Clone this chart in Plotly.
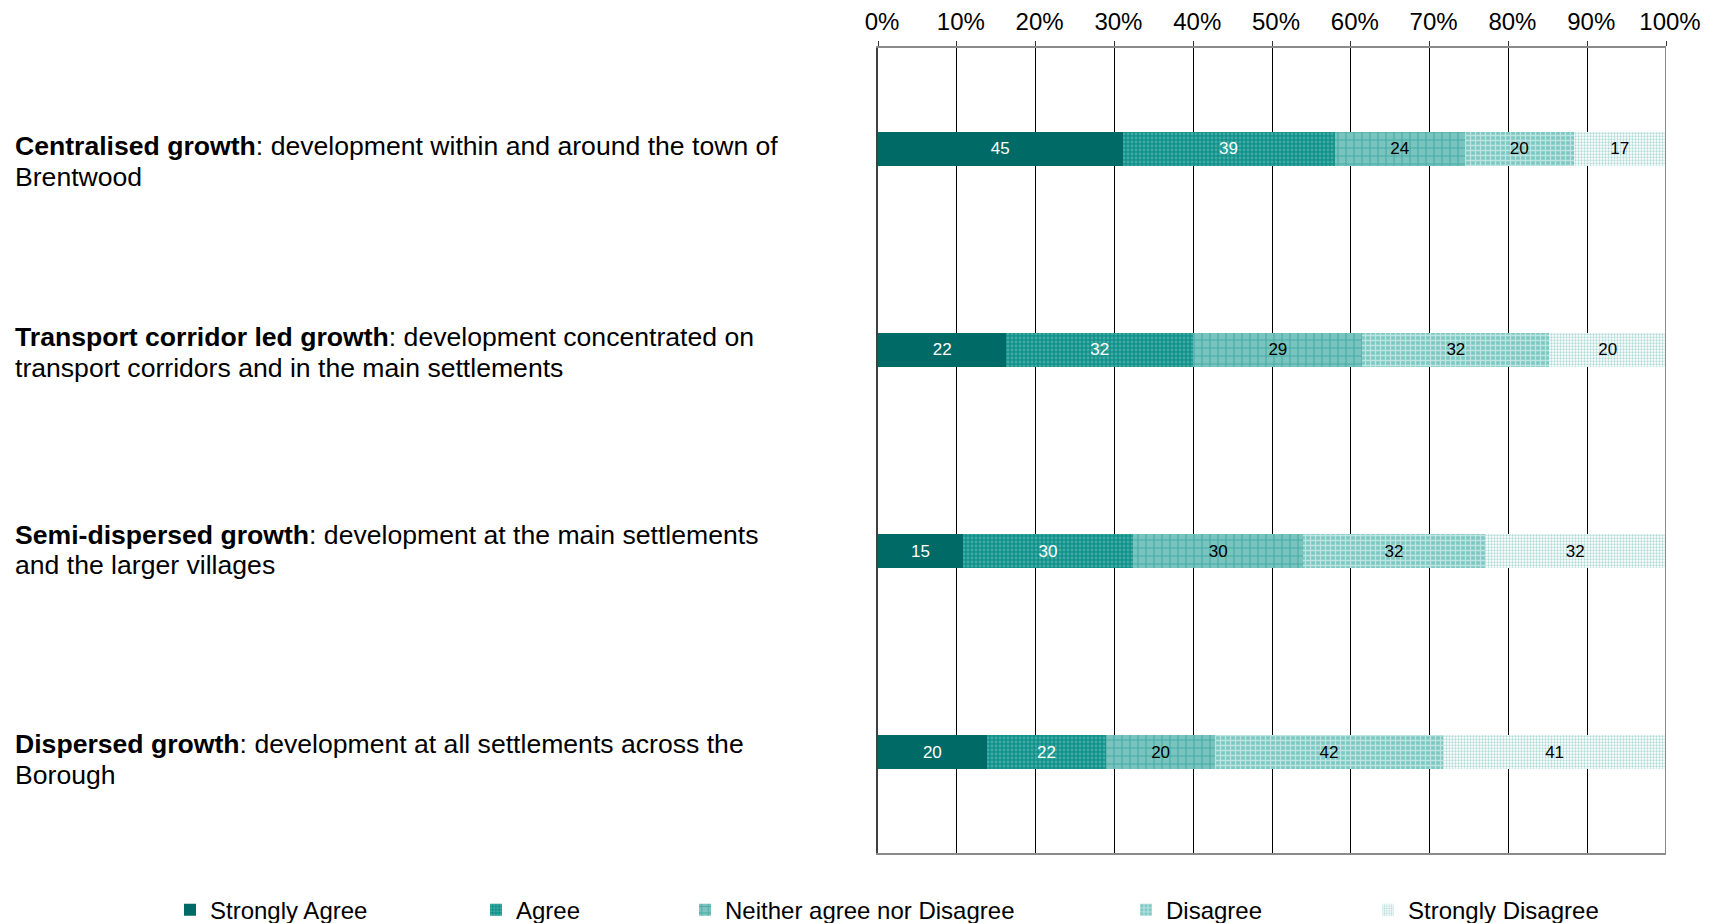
import plotly.graph_objects as go

# Survey responses (counts) per growth option
options = [
    "Centralised growth",
    "Transport corridor led growth",
    "Semi-dispersed growth",
    "Dispersed growth",
]
desc_line1 = [
    ": development within and around the town of",
    ": development concentrated on",
    ": development at the main settlements",
    ": development at all settlements across the",
]
desc_line2 = [
    "Brentwood",
    "transport corridors and in the main settlements",
    "and the larger villages",
    "Borough",
]
responses = ["Strongly Agree", "Agree", "Neither agree nor Disagree", "Disagree", "Strongly Disagree"]
strongly_agree = [45, 22, 15, 20]
agree = [39, 32, 30, 22]
neither = [24, 29, 30, 20]
disagree = [20, 32, 32, 42]
strongly_disagree = [17, 20, 32, 41]
series = [strongly_agree, agree, neither, disagree, strongly_disagree]
x_ticks = list(range(0, 101, 10))

FONT = "Liberation Sans, Arial, sans-serif"

styles = [
    dict(color="#006B66", pattern=None, text="white"),
    dict(color="#0C8E87", pattern=dict(shape=".", fgcolor="#74C5BF", bgcolor="#10918A", size=4, solidity=0.4), text="white"),
    dict(color="#6FBFBA", pattern=dict(shape="+", fgcolor="#13918A", bgcolor="#79C4BF", size=8, solidity=0.25), text="black"),
    dict(color="#A6D8D4", pattern=dict(shape="+", fgcolor="#FFFFFF", bgcolor="#7CC8C3", size=5, solidity=0.45), text="black"),
    dict(color="#FFFFFF", pattern=dict(shape=".", fgcolor="#5FB6B0", bgcolor="#FFFFFF", size=3, solidity=0.45), text="black"),
]

legend_x = [-0.8985, -0.5102, -0.2449, 0.3147, 0.6218]

fig = go.Figure()
for i, (name, vals, st) in enumerate(zip(responses, series, styles)):
    marker = dict(color=st["color"], line=dict(width=0))
    if st["pattern"]:
        marker["pattern"] = st["pattern"]
    fig.add_trace(go.Bar(
        name=name,
        y=options,
        x=vals,
        orientation="h",
        marker=marker,
        text=[str(v) for v in vals],
        textposition="inside",
        insidetextanchor="middle",
        textangle=0,
        constraintext="none",
        textfont=dict(family=FONT, size=17, color=st["text"]),
        hoverinfo="x+y+name",
        showlegend=True,
        legend="legend" if i == 0 else f"legend{i + 1}",
    ))

layout_legends = {}
for i, lx in enumerate(legend_x):
    key = "legend" if i == 0 else f"legend{i + 1}"
    layout_legends[key] = dict(
        x=lx, y=-0.071, xanchor="left", yanchor="middle",
        orientation="h", font=dict(family=FONT, size=24, color="black"),
        bgcolor="rgba(0,0,0,0)", itemwidth=30, visible=True,
    )

# Category labels on the left: bold lead-in, description wrapped over two lines
line1_shift = [3, 13, 16, 8]
line2_shift = [-28, -18, -14, -23]
annotations = []
for opt, d1, d2, s1, s2 in zip(options, desc_line1, desc_line2, line1_shift, line2_shift):
    annotations.append(dict(
        x=-1.0975, xref="paper", y=opt, yref="y",
        xanchor="left", yanchor="middle", align="left", yshift=s1,
        text=f"<b>{opt}</b>{d1}", showarrow=False,
        font=dict(family=FONT, size=26.6, color="black"),
    ))
    annotations.append(dict(
        x=-1.0975, xref="paper", y=opt, yref="y",
        xanchor="left", yanchor="middle", align="left", yshift=s2,
        text=d2, showarrow=False,
        font=dict(family=FONT, size=26.6, color="black"),
    ))

fig.update_layout(
    barmode="stack",
    barnorm="percent",
    bargap=0.83,
    showlegend=True,
    width=1717, height=923,
    margin=dict(l=878, r=51, t=48, b=70, autoexpand=False),
    paper_bgcolor="white",
    plot_bgcolor="white",
    font=dict(family=FONT, color="black"),
    annotations=annotations,
    **layout_legends,
)
fig.update_xaxes(
    side="top", range=[0, 100], tickvals=x_ticks,
    ticktext=[f"{t}%" for t in x_ticks],
    tickfont=dict(family=FONT, size=24, color="black"),
    ticks="outside", ticklen=5, tickcolor="#333333",
    showgrid=True, gridcolor="black", gridwidth=1,
    showline=True, linecolor="#8A8A8A", linewidth=2, mirror=True,
    zeroline=False, fixedrange=True, ticklabelstandoff=1, ticklabelshift=4,
)
fig.update_yaxes(
    categoryorder="array", categoryarray=options, autorange="reversed",
    showticklabels=False, showgrid=False, zeroline=False,
    showline=True, linecolor="#404040", linewidth=2, ticks="",
    fixedrange=True,
)
# right-hand frame edge at 100%
fig.add_shape(type="line", xref="x", yref="paper", x0=100, x1=100, y0=0, y1=1,
              line=dict(color="#8A8A8A", width=2))

fig.write_html("out.html")
